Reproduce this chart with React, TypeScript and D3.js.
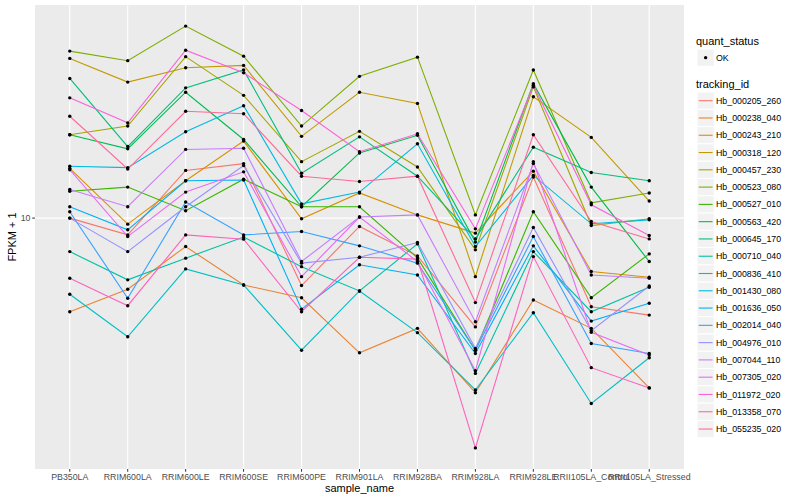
import React from 'react'
import * as d3 from 'd3'

const samples = [
    'PB350LA', 'RRIM600LA', 'RRIM600LE', 'RRIM600SE', 'RRIM600PE', 'RRIM901LA',
    'RRIM928BA', 'RRIM928LA', 'RRIM928LE', 'RRII105LA_Control', 'RRII105LA_Stressed',
]

const trackingIds = [
    'Hb_000205_260', 'Hb_000238_040', 'Hb_000243_210', 'Hb_000318_120', 'Hb_000457_230',
    'Hb_000523_080', 'Hb_000527_010', 'Hb_000563_420', 'Hb_000645_170', 'Hb_000710_040',
    'Hb_000836_410', 'Hb_001430_080', 'Hb_001636_050', 'Hb_002014_040', 'Hb_004976_010',
    'Hb_007044_110', 'Hb_007305_020', 'Hb_011972_020', 'Hb_013358_070', 'Hb_055235_020',
]

// FPKM + 1, one value per sample
const hb000205_260 = [10.0, 8.57, 15.5, 16.5, 5.38, 9.26, 7.07, 3.68, 14.6, 4.43, 4.10]
const hb000238_040 = [4.23, 5.20, 7.70, 5.41, 4.81, 2.90, 3.63, 2.01, 4.71, 3.63, 2.10]
const hb000243_210 = [15.8, 9.46, 14.1, 20.3, 9.94, 12.6, 10.3, 8.71, 15.4, 6.12, 5.81]
const hb000318_120 = [43.4, 34.9, 39.8, 40.7, 21.2, 31.8, 28.7, 5.84, 30.5, 21.0, 11.7]
const hb000457_230 = [21.5, 23.3, 44.1, 30.9, 16.8, 22.2, 16.0, 7.47, 33.4, 9.34, 9.94]
const hb000523_080 = [46.4, 42.5, 58.4, 44.3, 23.3, 36.8, 43.9, 10.3, 39.0, 11.5, 12.6]
const hb000527_010 = [12.8, 13.3, 10.7, 14.3, 11.1, 11.1, 6.94, 2.97, 10.6, 4.81, 7.20]
const hb000563_420 = [21.5, 18.9, 31.8, 20.6, 11.1, 18.2, 21.4, 8.02, 34.4, 13.3, 6.71]
const hb000645_170 = [36.1, 19.3, 33.1, 39.0, 15.1, 21.1, 14.7, 8.26, 19.2, 15.2, 14.1]
const hb000710_040 = [7.35, 5.67, 6.92, 8.40, 6.40, 5.12, 7.89, 2.40, 7.35, 4.23, 5.30]
const hb000836_410 = [4.97, 3.36, 6.27, 5.41, 2.97, 5.12, 3.49, 2.06, 4.19, 1.82, 2.77]
const hb001430_080 = [16.1, 15.9, 22.1, 28.1, 11.4, 12.7, 19.8, 7.70, 14.8, 9.49, 9.84]
const hb001636_050 = [11.1, 8.98, 14.1, 14.2, 4.33, 6.51, 5.93, 2.88, 7.75, 3.88, 4.57]
const hb002014_040 = [10.6, 4.79, 11.6, 8.57, 8.84, 7.75, 6.61, 2.97, 8.44, 3.16, 2.88]
const hb004976_010 = [10.0, 7.35, 11.1, 16.2, 6.61, 6.98, 7.99, 3.02, 9.17, 3.55, 5.36]
const hb007044_110 = [13.0, 11.1, 18.8, 19.0, 6.71, 10.1, 10.3, 3.86, 16.5, 5.93, 5.75]
const hb007305_020 = [15.6, 8.44, 12.7, 15.3, 5.84, 10.1, 6.71, 2.46, 16.8, 3.50, 2.84]
const hb011972_020 = [30.2, 24.0, 46.8, 38.0, 26.9, 18.4, 21.7, 9.06, 33.9, 11.3, 8.52]
const hb013358_070 = [5.75, 4.47, 8.57, 8.24, 4.23, 6.98, 6.86, 1.21, 7.02, 2.53, 2.10]
const hb055235_020 = [25.5, 15.7, 26.7, 26.1, 14.7, 14.0, 14.7, 4.60, 21.5, 9.69, 8.26]

const seriesValues = [
    hb000205_260, hb000238_040, hb000243_210, hb000318_120, hb000457_230,
    hb000523_080, hb000527_010, hb000563_420, hb000645_170, hb000710_040,
    hb000836_410, hb001430_080, hb001636_050, hb002014_040, hb004976_010,
    hb007044_110, hb007305_020, hb011972_020, hb013358_070, hb055235_020,
]

const yTicks = [10]

// ggplot's default hue palette (polar LUV, l = 65, c = 100)
const hueColor = (h: number) => {
    const L = 65, C = 100
    const hr = h * Math.PI / 180
    const U = C * Math.cos(hr), V = C * Math.sin(hr)
    const Y = 100 * Math.pow((L + 16) / 116, 3)
    const u = U / (13 * L) + 0.1978398
    const v = V / (13 * L) + 0.4683363
    const X = 9 * Y * u / (4 * v)
    const Z = -X / 3 - 5 * Y + 3 * Y / v
    const g = (c: number) => {
        const t = c / 100
        const s = t > 0.00304 ? 1.055 * Math.pow(t, 1 / 2.4) - 0.055 : 12.92 * t
        return Math.round(255 * Math.max(0, Math.min(1, s)))
    }
    return d3.rgb(
        g(3.240479 * X - 1.53715 * Y - 0.498535 * Z),
        g(-0.969256 * X + 1.875992 * Y + 0.041556 * Z),
        g(0.055648 * X - 0.204043 * Y + 1.057311 * Z),
    ).formatHex()
}

const colors = trackingIds.map((_, i) => hueColor(15 + 360 * i / trackingIds.length))

const font = '"Liberation Sans", Arial, Helvetica, sans-serif'
const panel = { left: 35, right: 684, top: 5, bottom: 469 }

const App = () => {
    const x = d3.scalePoint<string>()
        .domain(samples)
        .range([panel.left, panel.right])
        .padding(0.6)

    const logs = seriesValues.flat().map(v => Math.log10(v))
    const lo = d3.min(logs)!
    const hi = d3.max(logs)!
    const pad = (hi - lo) * 0.05
    const y = d3.scaleLog()
        .domain([Math.pow(10, lo - pad), Math.pow(10, hi + pad)])
        .range([panel.bottom, panel.top])

    const line = d3.line<number>()
        .x((_, i) => x(samples[i])!)
        .y(v => y(v))

    const keySize = 17.28
    const legendX = 697
    const rowY0 = 100.7

    return (
        <svg width={800} height={500} style={{ position: 'absolute', left: 0, top: 0, background: '#fff' }}
            fontFamily={font}>
            <rect x={panel.left} y={panel.top} width={panel.right - panel.left}
                height={panel.bottom - panel.top} fill="#EBEBEB" />
            {yTicks.map(t => (
                <line key={t} x1={panel.left} x2={panel.right} y1={y(t)} y2={y(t)}
                    stroke="#fff" strokeWidth={1.1} />
            ))}
            {samples.map(s => (
                <line key={s} x1={x(s)} x2={x(s)} y1={panel.top} y2={panel.bottom}
                    stroke="#fff" strokeWidth={1.1} />
            ))}

            {seriesValues.map((vals, i) => (
                <path key={trackingIds[i]} d={line(vals)!} fill="none"
                    stroke={colors[i]} strokeWidth={1.1} />
            ))}
            {seriesValues.map((vals, i) => vals.map((v, j) => (
                <circle key={`${i}-${j}`} cx={x(samples[j])} cy={y(v)} r={1.7} fill="#000" />
            )))}

            {/* y axis */}
            {yTicks.map(t => (
                <g key={t}>
                    <line x1={panel.left - 2.75} x2={panel.left} y1={y(t)} y2={y(t)}
                        stroke="#333" strokeWidth={1} />
                    <text x={panel.left - 4.5} y={y(t) + 3.1} textAnchor="end"
                        fontSize={8.8} fill="#4D4D4D">{t}</text>
                </g>
            ))}
            <text transform={`translate(16, ${(panel.top + panel.bottom) / 2}) rotate(-90)`}
                textAnchor="middle" fontSize={11}>FPKM + 1</text>

            {/* x axis */}
            {samples.map(s => (
                <g key={s}>
                    <line x1={x(s)} x2={x(s)} y1={panel.bottom} y2={panel.bottom + 2.75}
                        stroke="#333" strokeWidth={1} />
                    <text x={x(s)} y={480} textAnchor="middle" fontSize={8.8}
                        fill="#4D4D4D">{s}</text>
                </g>
            ))}
            <text x={(panel.left + panel.right) / 2} y={492} textAnchor="middle"
                fontSize={11}>sample_name</text>

            {/* legends */}
            <text x={696} y={44.5} fontSize={11}>quant_status</text>
            <rect x={legendX} y={49} width={keySize} height={keySize}
                fill="#F2F2F2" stroke="#fff" />
            <circle cx={legendX + keySize / 2} cy={49 + keySize / 2} r={1.7} fill="#000" />
            <text x={716} y={60.7} fontSize={8.8}>OK</text>

            <text x={696} y={88} fontSize={11}>tracking_id</text>
            {trackingIds.map((id, i) => {
                const cy = rowY0 + i * keySize
                return (
                    <g key={id}>
                        <rect x={legendX} y={cy - keySize / 2} width={keySize} height={keySize}
                            fill="#F2F2F2" stroke="#fff" />
                        <line x1={legendX + 1.7} x2={legendX + keySize - 1.7} y1={cy} y2={cy}
                            stroke={colors[i]} strokeWidth={1.1} />
                        <text x={716} y={cy + 3.1} fontSize={8.8}>{id}</text>
                    </g>
                )
            })}
        </svg>
    )
}

export default App
